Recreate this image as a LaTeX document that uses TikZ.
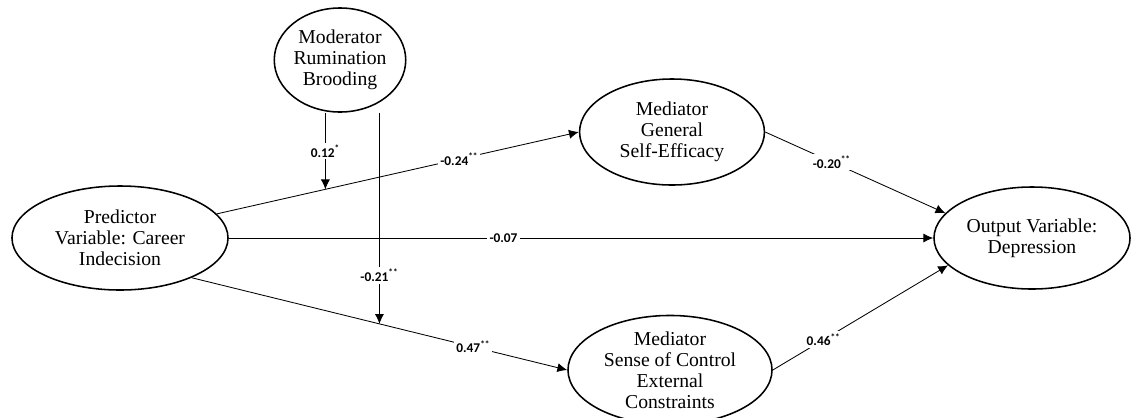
\documentclass[tikz,border=0pt]{standalone}
\usepackage{fontspec}
\setmainfont{Liberation Serif}
\newfontfamily\coeffont{Carlito}
\usetikzlibrary{%
    shapes.geometric,%
    arrows.meta
}
\tikzset{
  var/.style={draw,ellipse,line width=1.1pt,inner sep=0pt,align=center,
    font=\fontsize{14}{15}\selectfont},
  coef/.style={fill=white,inner sep=1.5pt,font=\coeffont\bfseries\fontsize{9.5}{10}\selectfont},
  path/.style={->,line width=0.6pt}
}
\newcommand{\sig}[1]{\textsuperscript{#1}}

\begin{document}
\begin{tikzpicture}[x=0.025cm,y=-0.025cm,>={Latex[length=7pt,width=6.5pt]}]
\useasboundingbox (0,0) rectangle (1136,417);

\node[var,minimum width=3.15cm,minimum height=2.6cm] (mod) at (340,60) {Moderator\\Rumination\\Brooding};
\node[var,minimum width=5.4cm,minimum height=2.6cm] (pred) at (120,238) {Predictor\\Variable: Career\\Indecision};
\node[var,minimum width=4.62cm,minimum height=2.65cm] (gse) at (672,132) {Mediator\\General\\Self-Efficacy};
\node[var,minimum width=5.1cm,minimum height=2.6cm] (soc) at (670,370) {Mediator\\Sense of Control\\External\\Constraints};
\node[var,minimum width=4.9cm,minimum height=2.55cm] (out) at (1032,238) {Output Variable:\\Depression};

\draw[path] (pred.14) -- coordinate[pos=0.3] (i1) node[coef,pos=0.67]{-0.24\sig{**}} (gse.west);
\draw[path] (pred.east) -- node[coef,pos=0.39]{-0.07} (out.west);
\draw[path] (pred.-29) -- coordinate[pos=0.5] (i2) node[coef,pos=0.75]{0.47\sig{**}} (soc.west);
\draw[path] (gse.east) -- node[coef,pos=0.37]{-0.20\sig{**}} (out.164);
\draw[path] (soc.east) -- node[coef,pos=0.29]{0.46\sig{**}} (out.198);

\draw[path] (mod.south -| i1) -- node[coef]{0.12\sig{*}} (i1);
\draw[path] (mod.south -| i2) -- node[coef,pos=0.77]{-0.21\sig{**}} (i2);
\end{tikzpicture}
\end{document}
